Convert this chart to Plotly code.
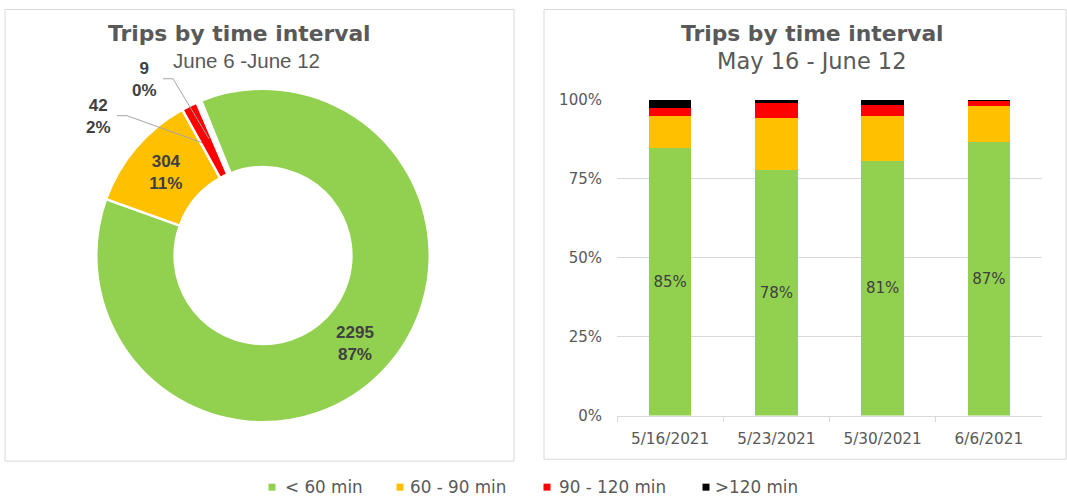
import plotly.graph_objects as go

# ---------------- data ----------------
categories = ["< 60 min", "60 - 90 min", "90 - 120 min", ">120 min"]
colors = ["#92D050", "#FFC000", "#FF0000", "#000000"]

pie_counts = [2295, 304, 42, 9]

weeks = ["5/16/2021", "5/23/2021", "5/30/2021", "6/6/2021"]
share_lt60 = [0.848, 0.778, 0.807, 0.866]
share_60_90 = [0.100, 0.166, 0.143, 0.115]
share_90_120 = [0.028, 0.045, 0.034, 0.016]
share_gt120 = [0.024, 0.011, 0.016, 0.003]
bar_series = [share_lt60, share_60_90, share_90_120, share_gt120]

# ---------------- layout helpers (screen px -> paper fraction) ----------------
W = 1067.0
FIG_H = 480.7     # effective drawing height of the figure
TOP = 8.15        # screen offset of the figure's top edge
GREY = "#595959"
DARK = "#404040"
LINE = "#D9D9D9"


def px(x):
    return x / W


def py(y):
    return min(0.999, 1 - (y - TOP) / FIG_H)


fig = go.Figure()

total = sum(pie_counts)
pie_text = [f"{v}<br>{round(100 * v / total)}%" for v in pie_counts]

# donut: centre (263, 255)
fig.add_trace(go.Pie(
    labels=categories,
    values=pie_counts,
    sort=False,
    direction="clockwise",
    rotation=-22,
    hole=0.53,
    marker=dict(colors=colors, line=dict(color="white", width=[2.5, 2.5, 2.5, 4])),
    text=[pie_text[0], pie_text[1], "", ""],
    textinfo="text",
    textposition="inside",
    insidetextorientation="horizontal",
    textfont=dict(family="Liberation Sans", size=17, color=DARK, weight="bold"),
    domain=dict(x=[px(96), px(430)], y=[py(422), py(88)]),
    showlegend=False,
    hoverinfo="label+value+percent",
))

for i, (name, vals) in enumerate(zip(categories, bar_series)):
    fig.add_trace(go.Bar(
        x=weeks,
        y=vals,
        name=name,
        marker=dict(color=colors[i], line=dict(width=0)),
        text=[f"{round(v * 100)}%" for v in vals] if i == 0 else None,
        textposition="inside" if i == 0 else "none",
        insidetextanchor="middle",
        textfont=dict(family="DejaVu Sans", size=15, color=DARK),
        showlegend=False,
        xaxis="x", yaxis="y",
    ))

shapes = [
    dict(type="rect", xref="paper", yref="paper",
         x0=px(5), x1=px(514), y0=py(461), y1=py(2),
         line=dict(color=LINE, width=1)),
    dict(type="rect", xref="paper", yref="paper",
         x0=px(544), x1=px(1066), y0=py(459), y1=py(2),
         line=dict(color=LINE, width=1)),
    # leader lines for small slices
    dict(type="path", xref="paper", yref="paper",
         path=f"M {px(163)},{py(78)} L {px(173)},{py(78)} L {px(209)},{py(138)}",
         line=dict(color="#A6A6A6", width=1)),
    dict(type="path", xref="paper", yref="paper",
         path=f"M {px(117)},{py(115)} L {px(127)},{py(115)} L {px(202)},{py(142)}",
         line=dict(color="#A6A6A6", width=1)),
]

label_font = dict(family="Liberation Sans", size=17, color=DARK, weight="bold")
title_font = dict(family="DejaVu Sans", size=21.8, color=GREY, weight="bold")
sub_font_left = dict(family="Liberation Sans", size=20.5, color=GREY)
sub_font_right = dict(family="DejaVu Sans", size=22.5, color=GREY)
legend_font = dict(family="DejaVu Sans", size=16.8, color=GREY)

annotations = [
    dict(text="Trips by time interval", x=px(239), y=py(33), font=title_font),
    dict(text="June 6 -June 12", x=px(246), y=py(60), font=sub_font_left),
    dict(text="Trips by time interval", x=px(812), y=py(33), font=title_font),
    dict(text="May 16 - June 12", x=px(812), y=py(60), font=sub_font_right),
    dict(text=pie_text[3], x=px(144), y=py(79), font=label_font),
    dict(text=pie_text[2], x=px(98), y=py(116), font=label_font),
]
for a in annotations:
    a.update(xanchor="center")

# shared legend (bottom centre)
legend_marker_x = [272, 400, 547, 706]
legend_text_x = [283, 408, 557, 713]
legend_y = 487
for i, name in enumerate(categories):
    mx = legend_marker_x[i]
    shapes.append(dict(type="rect", xref="paper", yref="paper",
                       x0=px(mx - 3.5), x1=px(mx + 3.5),
                       y0=py(legend_y + 3.5), y1=py(legend_y - 3.5),
                       fillcolor=colors[i], line=dict(width=0)))
    annotations.append(dict(text=name, x=px(legend_text_x[i]), y=py(legend_y),
                            xanchor="left", font=legend_font))

for a in annotations:
    a.update(xref="paper", yref="paper", showarrow=False, yanchor="middle")

fig.update_layout(
    autosize=True,
    margin=dict(l=0, r=0, t=0, b=0),
    paper_bgcolor="white",
    plot_bgcolor="white",
    barmode="stack",
    bargap=0.6,
    shapes=shapes,
    annotations=annotations,
    showlegend=False,
    font=dict(family="DejaVu Sans", color=GREY),
    xaxis=dict(
        domain=[px(617), px(1042)],
        type="category",
        showline=True, linecolor=LINE, linewidth=1,
        ticks="outside", tickson="boundaries", ticklen=5, tickcolor=LINE,
        showgrid=False,
        ticklabelstandoff=9,
        tickfont=dict(family="DejaVu Sans", size=15.3, color=GREY),
        fixedrange=True,
    ),
    yaxis=dict(
        domain=[py(415.3), py(99.3)],
        range=[0, 1],
        tickvals=[0, 0.25, 0.5, 0.75, 1.0],
        tickformat=".0%",
        showgrid=True, gridcolor=LINE, gridwidth=1,
        zeroline=False, showline=False,
        ticks="", ticklabelstandoff=14,
        tickfont=dict(family="DejaVu Sans", size=15, color=GREY),
        fixedrange=True,
    ),
)

post = """
var gd = document.getElementById('{plot_id}');
document.documentElement.style.margin = '0';
document.documentElement.style.overflow = 'hidden';
document.body.style.margin = '0';
document.body.style.padding = '0';
document.body.style.overflow = 'hidden';
gd.style.position = 'fixed';
gd.style.left = '0';
gd.style.top = '0';
gd.style.width = '100vw';
gd.style.height = '100vh';
Plotly.Plots.resize(gd);
"""
fig.write_html(
    "out.html",
    default_width="100vw",
    default_height="100vh",
    config={"displayModeBar": False, "responsive": True},
    post_script=post,
)
